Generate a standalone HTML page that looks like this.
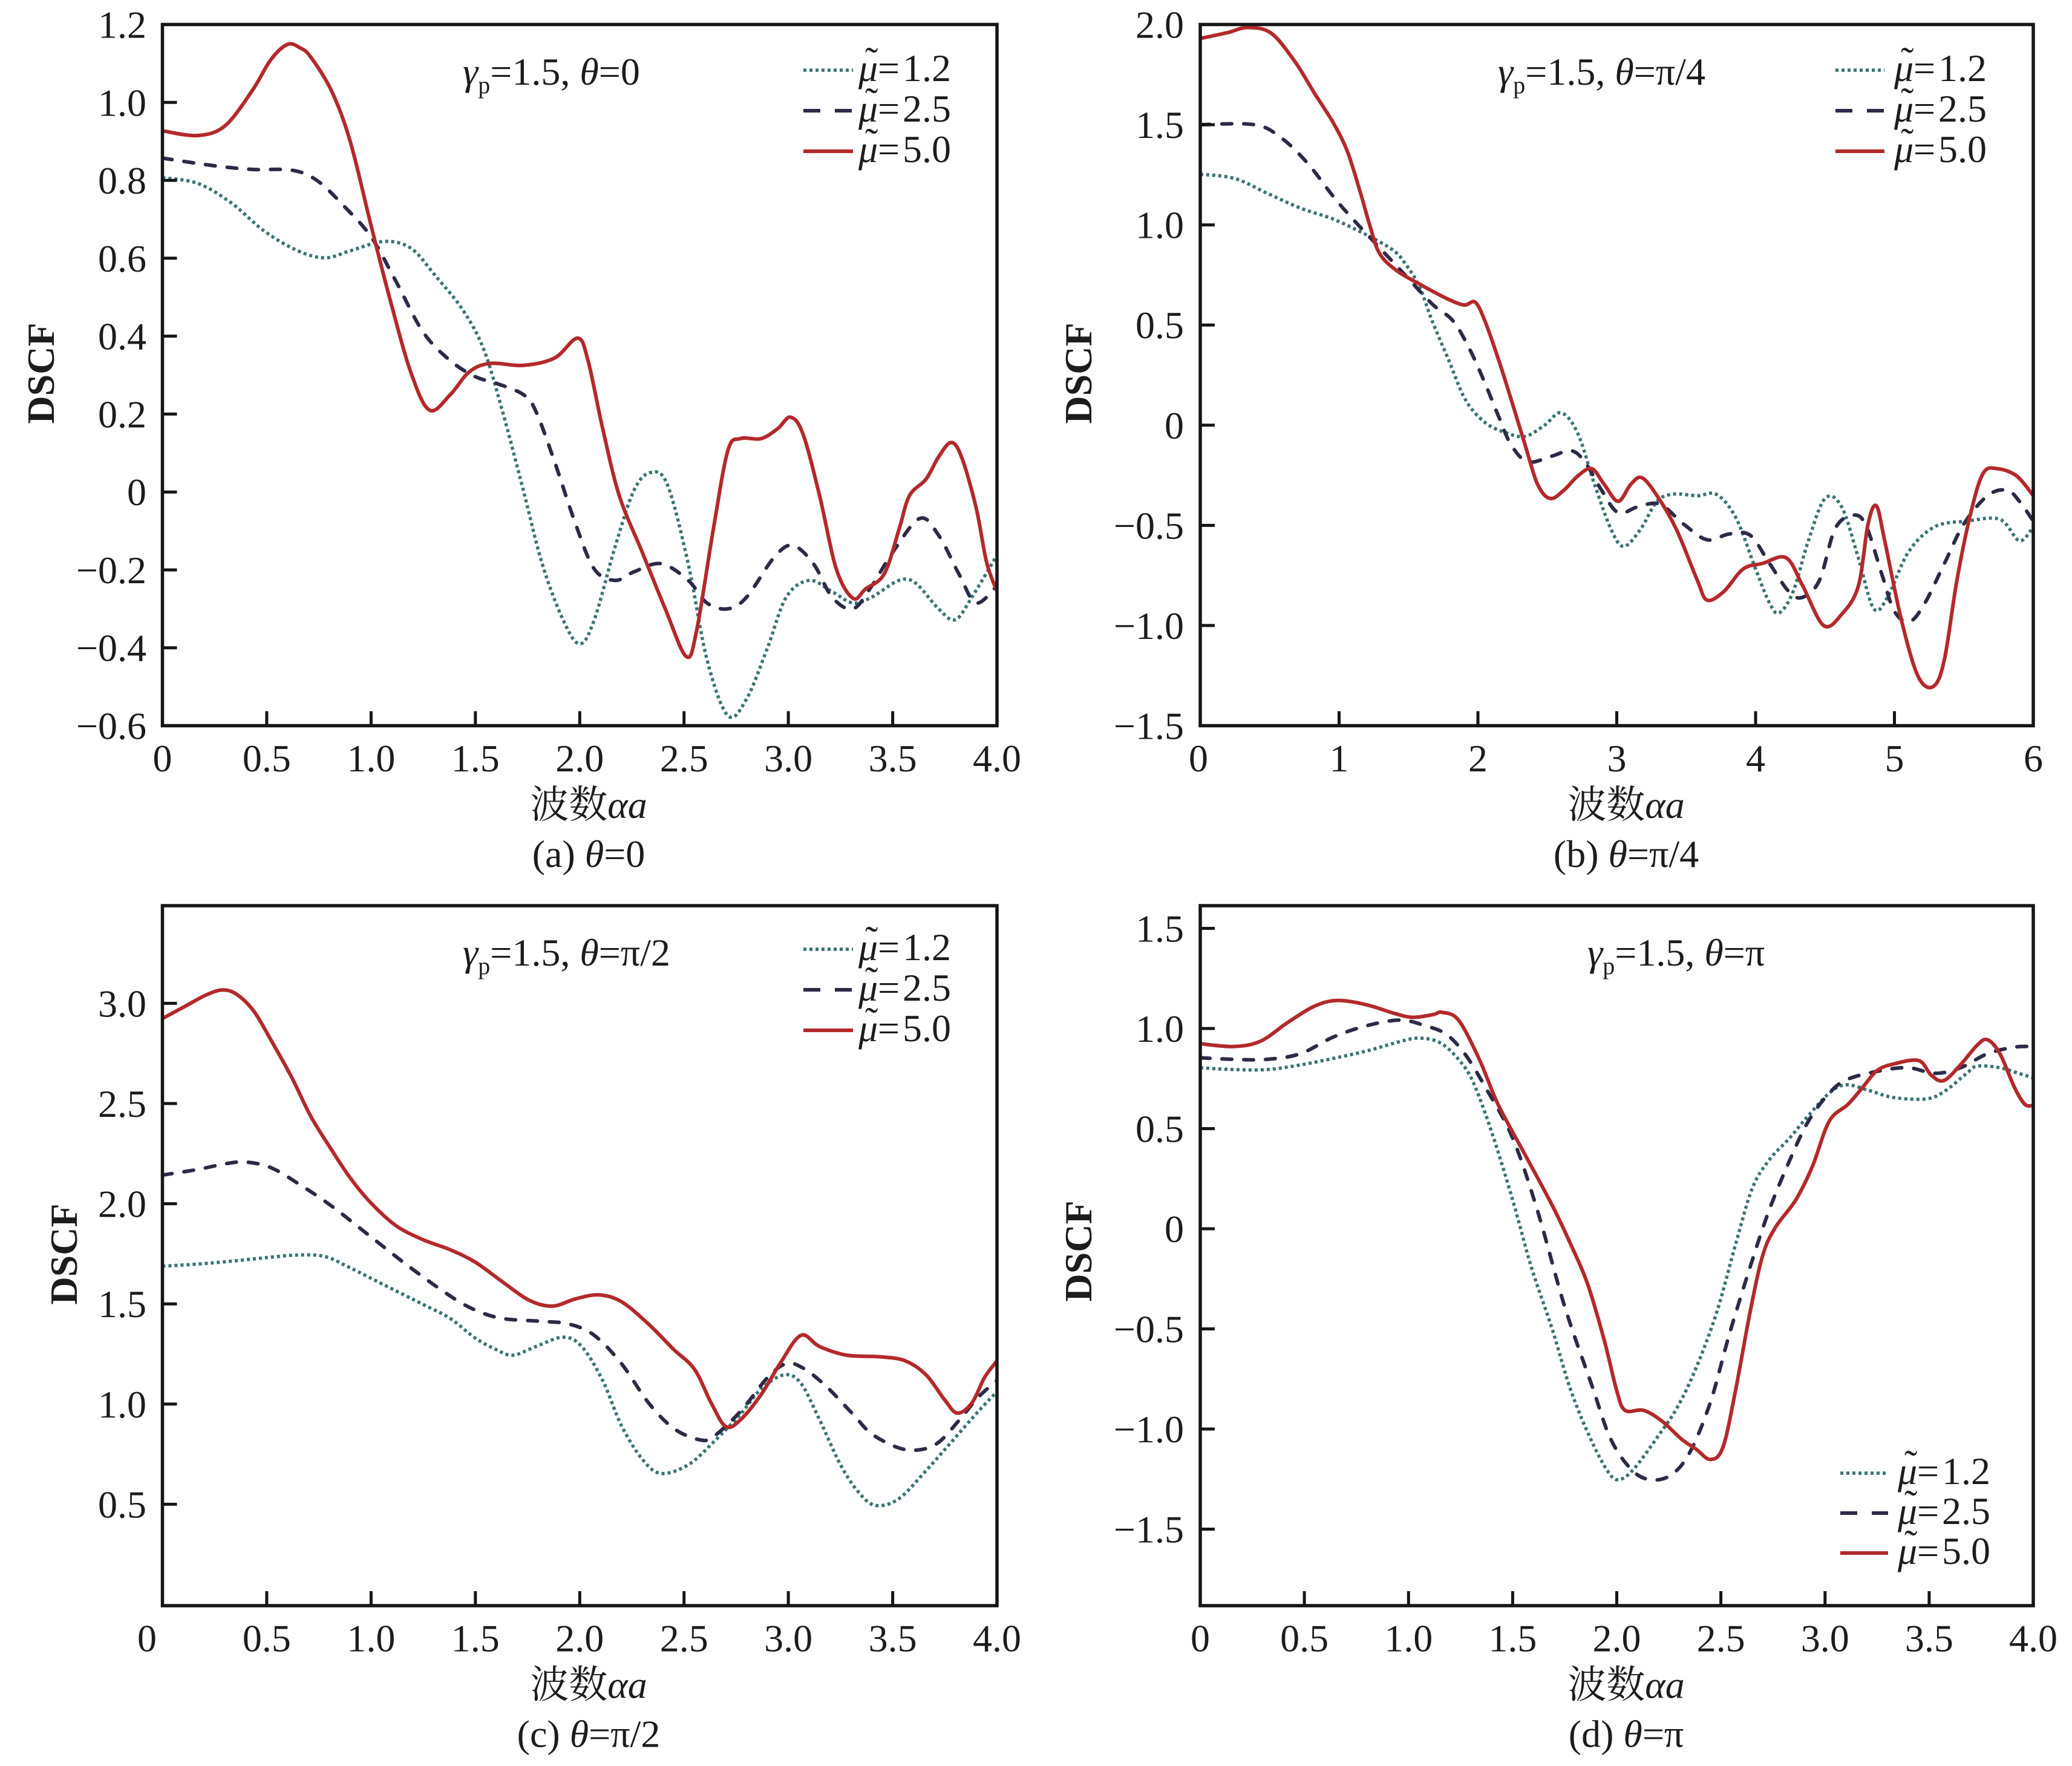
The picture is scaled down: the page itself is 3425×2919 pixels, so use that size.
<!DOCTYPE html>
<html><head><meta charset="utf-8">
<style>
html,body{margin:0;padding:0;background:#fff;}
svg{display:block;}
text{font-family:"Liberation Serif","Noto Serif CJK SC",serif;font-size:64px;fill:#1c1c1c;}
.dot{fill:none;stroke:#3a7272;stroke-width:5.5;stroke-dasharray:5 5;stroke-linejoin:round;vector-effect:non-scaling-stroke;}
.dash{fill:none;stroke:#2b2b47;stroke-width:6;stroke-dasharray:16 20;stroke-linecap:round;stroke-linejoin:round;vector-effect:non-scaling-stroke;}
.sol{fill:none;stroke:#b3292b;stroke-width:6;stroke-linejoin:round;stroke-linecap:round;vector-effect:non-scaling-stroke;}
.ldash{fill:none;stroke:#2b2b47;stroke-width:6;stroke-dasharray:28 24;}
.frame{fill:none;stroke:#161616;stroke-width:5.5;}
.tick{fill:none;stroke:#161616;stroke-width:5;}
</style></head>
<body>
<svg id="chart" xmlns="http://www.w3.org/2000/svg" width="3425" height="2919" viewBox="0 0 3425 2919">
<defs>
<clipPath id="ca"><rect x="268.5" y="40.5" width="1379.5" height="1159"/></clipPath>
<clipPath id="cb"><rect x="1984" y="40.5" width="1377" height="1159"/></clipPath>
<clipPath id="cc"><rect x="268.5" y="1497" width="1379.5" height="1157"/></clipPath>
<clipPath id="cd"><rect x="1984" y="1497" width="1377" height="1157"/></clipPath>
</defs>
<rect x="0" y="0" width="3425" height="2919" fill="#fff"/>

<!-- Panel a curves -->
<g clip-path="url(#ca)"><g id="pa" transform="translate(268.5,813.17) scale(344.875,-643.89)">
<polyline class="dot" vector-effect="non-scaling-stroke" points="0,0.807 0.17,0.792 0.33,0.742 0.49,0.669 0.65,0.619 0.78,0.601 0.90,0.619 1.06,0.643 1.19,0.626 1.31,0.554 1.44,0.467 1.54,0.366 1.63,0.207 1.73,0.004 1.82,-0.184 1.92,-0.328 2.0,-0.39 2.07,-0.328 2.17,-0.14 2.26,0.004 2.34,0.05 2.42,0.019 2.52,-0.184 2.61,-0.43 2.71,-0.574 2.80,-0.531 2.90,-0.40 2.99,-0.27 3.10,-0.227 3.21,-0.256 3.31,-0.285 3.40,-0.27 3.53,-0.227 3.61,-0.234 3.72,-0.30 3.80,-0.328 3.88,-0.27 4.0,-0.162"/>
<polyline class="dash" vector-effect="non-scaling-stroke" points="0,0.857 0.24,0.838 0.43,0.828 0.62,0.826 0.74,0.80 0.87,0.734 1.0,0.655 1.12,0.54 1.25,0.41 1.38,0.337 1.50,0.296 1.60,0.279 1.73,0.25 1.79,0.207 1.88,0.077 1.98,-0.082 2.07,-0.198 2.17,-0.227 2.26,-0.205 2.39,-0.184 2.52,-0.227 2.61,-0.285 2.71,-0.30 2.80,-0.27 2.93,-0.169 3.02,-0.137 3.12,-0.184 3.21,-0.27 3.31,-0.30 3.40,-0.241 3.50,-0.155 3.63,-0.068 3.72,-0.111 3.82,-0.213 3.90,-0.285 4.0,-0.241"/>
<polyline class="sol" vector-effect="non-scaling-stroke" points="0,0.927 0.17,0.915 0.30,0.94 0.43,1.03 0.52,1.11 0.60,1.149 0.66,1.14 0.71,1.117 0.81,1.03 0.90,0.90 1.0,0.684 1.09,0.496 1.19,0.308 1.28,0.21 1.38,0.25 1.47,0.308 1.57,0.33 1.73,0.325 1.88,0.344 1.99,0.395 2.04,0.337 2.11,0.163 2.19,-0.01 2.30,-0.155 2.41,-0.30 2.51,-0.422 2.56,-0.357 2.64,-0.097 2.71,0.106 2.77,0.137 2.87,0.137 2.95,0.163 3.01,0.192 3.07,0.149 3.15,-0.01 3.23,-0.198 3.31,-0.273 3.37,-0.249 3.46,-0.21 3.53,-0.097 3.58,-0.01 3.66,0.033 3.72,0.09 3.78,0.127 3.83,0.09 3.90,-0.04 3.95,-0.18 4.0,-0.255"/>
</g></g>

<!-- Panel b curves -->
<g clip-path="url(#cb)"><g id="pb" transform="translate(1984,702.79) scale(229.5,-331.14)">
<polyline class="dot" vector-effect="non-scaling-stroke" points="0,1.253 0.25,1.231 0.49,1.155 0.72,1.084 0.96,1.028 1.20,0.949 1.39,0.873 1.48,0.803 1.58,0.69 1.67,0.521 1.79,0.324 1.91,0.127 2.05,0.014 2.20,-0.037 2.34,-0.056 2.48,0.0 2.60,0.062 2.72,-0.042 2.84,-0.296 2.96,-0.521 3.05,-0.605 3.17,-0.521 3.29,-0.38 3.41,-0.344 3.58,-0.352 3.72,-0.346 3.86,-0.465 4.0,-0.718 4.10,-0.887 4.17,-0.937 4.27,-0.831 4.38,-0.577 4.50,-0.366 4.62,-0.408 4.74,-0.662 4.85,-0.915 4.95,-0.859 5.10,-0.634 5.29,-0.507 5.52,-0.479 5.76,-0.47 5.90,-0.577 6.0,-0.507"/>
<polyline class="dash" vector-effect="non-scaling-stroke" points="0,1.50 0.39,1.50 0.58,1.436 0.77,1.31 0.96,1.14 1.10,1.028 1.29,0.887 1.48,0.746 1.67,0.605 1.82,0.521 1.94,0.38 2.05,0.211 2.15,0.042 2.24,-0.099 2.36,-0.183 2.53,-0.155 2.67,-0.127 2.77,-0.183 2.89,-0.324 3.01,-0.437 3.15,-0.408 3.31,-0.394 3.48,-0.493 3.65,-0.572 3.81,-0.543 3.96,-0.549 4.10,-0.69 4.24,-0.831 4.34,-0.859 4.46,-0.774 4.57,-0.521 4.69,-0.451 4.79,-0.493 4.91,-0.746 5.0,-0.929 5.11,-0.98 5.22,-0.887 5.36,-0.69 5.50,-0.493 5.67,-0.352 5.81,-0.324 5.90,-0.38 6.0,-0.479"/>
<polyline class="sol" vector-effect="non-scaling-stroke" points="0,1.93 0.2,1.96 0.34,1.985 0.51,1.957 0.68,1.817 0.82,1.66 0.96,1.507 1.06,1.366 1.15,1.169 1.22,1.0 1.29,0.859 1.41,0.774 1.58,0.704 1.77,0.634 1.90,0.60 1.98,0.614 2.05,0.521 2.15,0.324 2.24,0.127 2.34,-0.099 2.43,-0.296 2.52,-0.366 2.62,-0.324 2.72,-0.253 2.82,-0.217 2.91,-0.296 3.01,-0.38 3.10,-0.296 3.18,-0.262 3.29,-0.352 3.43,-0.521 3.58,-0.774 3.65,-0.873 3.77,-0.831 3.91,-0.718 4.05,-0.69 4.22,-0.662 4.34,-0.803 4.49,-1.0 4.62,-0.944 4.74,-0.803 4.81,-0.493 4.87,-0.403 4.93,-0.577 5.05,-0.972 5.17,-1.253 5.28,-1.304 5.36,-1.169 5.45,-0.774 5.55,-0.437 5.64,-0.239 5.74,-0.217 5.88,-0.253 6.0,-0.352"/>
</g></g>

<!-- Panel c curves -->
<g clip-path="url(#cc)"><g id="pc" transform="translate(268.5,2652) scale(344.875,-331.2)">
<polyline class="dot" vector-effect="non-scaling-stroke" points="0,1.688 0.17,1.699 0.33,1.713 0.49,1.730 0.65,1.744 0.78,1.736 0.90,1.68 1.06,1.596 1.25,1.497 1.38,1.427 1.50,1.329 1.60,1.272 1.68,1.244 1.79,1.287 1.92,1.334 2.01,1.287 2.11,1.118 2.20,0.893 2.30,0.725 2.39,0.654 2.52,0.697 2.64,0.809 2.77,0.949 2.87,1.076 2.98,1.146 3.06,1.104 3.15,0.921 3.25,0.697 3.34,0.556 3.42,0.494 3.53,0.528 3.66,0.668 3.78,0.809 3.91,0.963 4.0,1.062"/>
<polyline class="dash" vector-effect="non-scaling-stroke" points="0,2.143 0.17,2.171 0.30,2.199 0.40,2.208 0.52,2.18 0.65,2.101 0.81,1.989 1.0,1.834 1.19,1.68 1.38,1.539 1.50,1.469 1.63,1.427 1.82,1.413 1.95,1.399 2.07,1.343 2.20,1.202 2.33,1.006 2.45,0.879 2.57,0.823 2.64,0.837 2.77,0.963 2.90,1.132 2.99,1.202 3.07,1.18 3.18,1.09 3.31,0.949 3.40,0.851 3.53,0.781 3.63,0.772 3.72,0.809 3.82,0.921 3.91,1.034 4.0,1.118"/>
<polyline class="sol" vector-effect="non-scaling-stroke" points="0,2.924 0.11,2.986 0.21,3.042 0.29,3.067 0.36,3.042 0.44,2.958 0.52,2.817 0.62,2.630 0.71,2.438 0.81,2.27 0.90,2.129 1.0,2.003 1.12,1.89 1.25,1.82 1.38,1.77 1.50,1.708 1.63,1.61 1.76,1.517 1.87,1.489 1.98,1.525 2.09,1.545 2.20,1.511 2.33,1.399 2.45,1.273 2.55,1.174 2.63,1.006 2.70,0.888 2.77,0.921 2.87,1.048 2.96,1.202 3.06,1.343 3.15,1.287 3.28,1.244 3.44,1.236 3.56,1.216 3.66,1.146 3.75,1.02 3.81,0.955 3.88,1.006 3.94,1.132 4.0,1.216"/>
</g></g>

<!-- Panel d curves -->
<g clip-path="url(#cd)"><g id="pd" transform="translate(1984,2031) scale(344.25,-331)">
<polyline class="dot" vector-effect="non-scaling-stroke" points="0,0.804 0.16,0.795 0.32,0.795 0.48,0.818 0.64,0.851 0.80,0.888 0.96,0.935 1.05,0.952 1.15,0.93 1.24,0.846 1.31,0.733 1.40,0.481 1.50,0.144 1.59,-0.192 1.69,-0.501 1.78,-0.809 1.88,-1.062 1.96,-1.216 2.01,-1.253 2.08,-1.202 2.19,-1.048 2.29,-0.893 2.38,-0.697 2.48,-0.417 2.57,-0.08 2.65,0.2 2.73,0.341 2.83,0.453 2.92,0.565 3.02,0.677 3.10,0.719 3.21,0.691 3.33,0.655 3.49,0.649 3.58,0.691 3.68,0.776 3.73,0.812 3.84,0.804 3.93,0.776 4.0,0.753"/>
<polyline class="dash" vector-effect="non-scaling-stroke" points="0,0.854 0.16,0.846 0.32,0.846 0.48,0.874 0.64,0.958 0.80,1.014 0.96,1.042 1.08,1.014 1.18,0.972 1.27,0.874 1.37,0.705 1.50,0.453 1.62,0.088 1.75,-0.389 1.88,-0.781 1.97,-1.048 2.07,-1.202 2.16,-1.253 2.26,-1.23 2.35,-1.118 2.45,-0.865 2.54,-0.529 2.64,-0.192 2.73,0.088 2.83,0.341 2.92,0.537 3.02,0.677 3.11,0.747 3.27,0.79 3.40,0.804 3.53,0.776 3.65,0.804 3.78,0.874 3.91,0.907 4.0,0.91"/>
<polyline class="sol" vector-effect="non-scaling-stroke" points="0,0.924 0.16,0.91 0.29,0.937 0.42,1.03 0.55,1.112 0.66,1.14 0.80,1.118 0.93,1.076 1.02,1.056 1.12,1.07 1.16,1.081 1.24,1.042 1.34,0.846 1.43,0.621 1.56,0.369 1.69,0.117 1.78,-0.08 1.86,-0.276 1.94,-0.557 2.0,-0.809 2.04,-0.907 2.13,-0.907 2.22,-0.963 2.31,-1.05 2.38,-1.10 2.45,-1.152 2.51,-1.09 2.57,-0.809 2.64,-0.417 2.70,-0.136 2.76,0.004 2.86,0.145 2.94,0.313 3.02,0.537 3.11,0.621 3.18,0.705 3.25,0.79 3.33,0.823 3.45,0.84 3.51,0.767 3.57,0.74 3.65,0.818 3.73,0.916 3.78,0.944 3.84,0.874 3.91,0.705 3.96,0.621 4.0,0.616"/>
</g></g>

<!-- Frames -->
<rect class="frame" x="268.5" y="40.5" width="1379.5" height="1159"/>
<rect class="frame" x="1984" y="40.5" width="1377" height="1159"/>
<rect class="frame" x="268.5" y="1497" width="1379.5" height="1157"/>
<rect class="frame" x="1984" y="1497" width="1377" height="1157"/>

<!-- Ticks -->
<path class="tick" d="M268.5 169.3h24M268.5 298.1h24M268.5 426.8h24M268.5 555.6h24M268.5 684.4h24M268.5 813.2h24M268.5 942h24M268.5 1070.7h24
M440.9 1199.5v-24M613.4 1199.5v-24M785.8 1199.5v-24M958.3 1199.5v-24M1130.7 1199.5v-24M1303.1 1199.5v-24M1475.6 1199.5v-24"/>
<path class="tick" d="M1984 206.1h24M1984 371.7h24M1984 537.2h24M1984 702.8h24M1984 868.4h24M1984 1033.9h24
M2213.5 1199.5v-24M2443 1199.5v-24M2672.5 1199.5v-24M2902 1199.5v-24M3131.5 1199.5v-24"/>
<path class="tick" d="M268.5 2486.4h24M268.5 2320.8h24M268.5 2155.2h24M268.5 1989.6h24M268.5 1824h24M268.5 1658.4h24
M440.9 2654v-24M613.4 2654v-24M785.8 2654v-24M958.3 2654v-24M1130.7 2654v-24M1303.1 2654v-24M1475.6 2654v-24"/>
<path class="tick" d="M1984 1534.5h24M1984 1700h24M1984 1865.5h24M1984 2031h24M1984 2196.5h24M1984 2362h24M1984 2527.5h24
M2156.1 2654v-24M2328.3 2654v-24M2500.4 2654v-24M2672.5 2654v-24M2844.6 2654v-24M3016.8 2654v-24M3188.9 2654v-24"/>

<!-- Tick labels -->
<g text-anchor="end">
<text x="242" y="62.5">1.2</text><text x="242" y="191.3">1.0</text><text x="242" y="320.1">0.8</text><text x="242" y="448.8">0.6</text><text x="242" y="577.6">0.4</text><text x="242" y="706.4">0.2</text><text x="242" y="835.2">0</text><text x="242" y="964">−0.2</text><text x="242" y="1092.7">−0.4</text><text x="242" y="1221.5">−0.6</text>
<text x="1957" y="62.5">2.0</text><text x="1957" y="228.1">1.5</text><text x="1957" y="393.7">1.0</text><text x="1957" y="559.2">0.5</text><text x="1957" y="724.8">0</text><text x="1957" y="890.4">−0.5</text><text x="1957" y="1055.9">−1.0</text><text x="1957" y="1221.5">−1.5</text>
<text x="242" y="1680.4">3.0</text><text x="242" y="1846">2.5</text><text x="242" y="2011.6">2.0</text><text x="242" y="2177.2">1.5</text><text x="242" y="2342.8">1.0</text><text x="242" y="2508.4">0.5</text>
<text x="1957" y="1556.5">1.5</text><text x="1957" y="1722">1.0</text><text x="1957" y="1887.5">0.5</text><text x="1957" y="2053">0</text><text x="1957" y="2218.5">−0.5</text><text x="1957" y="2384">−1.0</text><text x="1957" y="2549.5">−1.5</text>
</g>
<g text-anchor="middle">
<text x="268.5" y="1275">0</text><text x="440.9" y="1275">0.5</text><text x="613.4" y="1275">1.0</text><text x="785.8" y="1275">1.5</text><text x="958.3" y="1275">2.0</text><text x="1130.7" y="1275">2.5</text><text x="1303.1" y="1275">3.0</text><text x="1475.6" y="1275">3.5</text><text x="1648" y="1275">4.0</text>
<text x="1981" y="1275">0</text><text x="2213.5" y="1275">1</text><text x="2443" y="1275">2</text><text x="2672.5" y="1275">3</text><text x="2902" y="1275">4</text><text x="3131.5" y="1275">5</text><text x="3361" y="1275">6</text>
<text x="243" y="2729.5">0</text><text x="440.9" y="2729.5">0.5</text><text x="613.4" y="2729.5">1.0</text><text x="785.8" y="2729.5">1.5</text><text x="958.3" y="2729.5">2.0</text><text x="1130.7" y="2729.5">2.5</text><text x="1303.1" y="2729.5">3.0</text><text x="1475.6" y="2729.5">3.5</text><text x="1648" y="2729.5">4.0</text>
<text x="1984" y="2729.5">0</text><text x="2156.1" y="2729.5">0.5</text><text x="2328.3" y="2729.5">1.0</text><text x="2500.4" y="2729.5">1.5</text><text x="2672.5" y="2729.5">2.0</text><text x="2844.6" y="2729.5">2.5</text><text x="3016.8" y="2729.5">3.0</text><text x="3188.9" y="2729.5">3.5</text><text x="3361" y="2729.5">4.0</text>

<!-- x labels and captions -->
<text x="973" y="1352">波数<tspan font-style="italic">αa</tspan></text>
<text x="973" y="1433">(a) <tspan font-style="italic">θ</tspan>=0</text>
<text x="2688" y="1352">波数<tspan font-style="italic">αa</tspan></text>
<text x="2688" y="1433">(b) <tspan font-style="italic">θ</tspan>=π/4</text>
<text x="973" y="2806.5">波数<tspan font-style="italic">αa</tspan></text>
<text x="973" y="2887.5">(c) <tspan font-style="italic">θ</tspan>=π/2</text>
<text x="2688" y="2806.5">波数<tspan font-style="italic">αa</tspan></text>
<text x="2688" y="2887.5">(d) <tspan font-style="italic">θ</tspan>=π</text>

<!-- y labels -->
<text transform="translate(67,617) rotate(-90)" dy="22" font-weight="bold">DSCF</text>
<text transform="translate(1782,617) rotate(-90)" dy="22" font-weight="bold">DSCF</text>
<text transform="translate(105,2073) rotate(-90)" dy="22" font-weight="bold">DSCF</text>
<text transform="translate(1782,2068) rotate(-90)" dy="22" font-weight="bold">DSCF</text>
</g>

<!-- Annotations -->
<text x="765" y="140"><tspan font-style="italic">γ</tspan><tspan font-size="40" dy="14">p</tspan><tspan dy="-14">=1.5, </tspan><tspan font-style="italic">θ</tspan>=0</text>
<text x="2476" y="140"><tspan font-style="italic">γ</tspan><tspan font-size="40" dy="14">p</tspan><tspan dy="-14">=1.5, </tspan><tspan font-style="italic">θ</tspan>=π/4</text>
<text x="765" y="1596"><tspan font-style="italic">γ</tspan><tspan font-size="40" dy="14">p</tspan><tspan dy="-14">=1.5, </tspan><tspan font-style="italic">θ</tspan>=π/2</text>
<text x="2624" y="1596"><tspan font-style="italic">γ</tspan><tspan font-size="40" dy="14">p</tspan><tspan dy="-14">=1.5, </tspan><tspan font-style="italic">θ</tspan>=π</text>

<!-- Legend a -->
<line class="dot" x1="1328" y1="116" x2="1410" y2="116"/>
<line class="ldash" x1="1328" y1="183" x2="1410" y2="183"/>
<line class="sol" style="stroke-linecap:butt" x1="1328" y1="250" x2="1410" y2="250"/>
<text x="1419" y="134" font-style="italic">μ</text><text x="1430" y="122">˜</text><text x="1451" y="134">=</text><text x="1492" y="134">1.2</text>
<text x="1419" y="201" font-style="italic">μ</text><text x="1430" y="189">˜</text><text x="1451" y="201">=</text><text x="1492" y="201">2.5</text>
<text x="1419" y="268" font-style="italic">μ</text><text x="1430" y="256">˜</text><text x="1451" y="268">=</text><text x="1492" y="268">5.0</text>

<!-- Legend b -->
<line class="dot" x1="3034" y1="116" x2="3115" y2="116"/>
<line class="ldash" x1="3034" y1="183" x2="3115" y2="183"/>
<line class="sol" style="stroke-linecap:butt" x1="3034" y1="250" x2="3115" y2="250"/>
<text x="3131" y="134" font-style="italic">μ</text><text x="3142" y="122">˜</text><text x="3163" y="134">=</text><text x="3204" y="134">1.2</text>
<text x="3131" y="201" font-style="italic">μ</text><text x="3142" y="189">˜</text><text x="3163" y="201">=</text><text x="3204" y="201">2.5</text>
<text x="3131" y="268" font-style="italic">μ</text><text x="3142" y="256">˜</text><text x="3163" y="268">=</text><text x="3204" y="268">5.0</text>

<!-- Legend c -->
<line class="dot" x1="1328" y1="1569" x2="1410" y2="1569"/>
<line class="ldash" x1="1328" y1="1636" x2="1410" y2="1636"/>
<line class="sol" style="stroke-linecap:butt" x1="1328" y1="1703" x2="1410" y2="1703"/>
<text x="1419" y="1587" font-style="italic">μ</text><text x="1430" y="1575">˜</text><text x="1451" y="1587">=</text><text x="1492" y="1587">1.2</text>
<text x="1419" y="1654" font-style="italic">μ</text><text x="1430" y="1642">˜</text><text x="1451" y="1654">=</text><text x="1492" y="1654">2.5</text>
<text x="1419" y="1721" font-style="italic">μ</text><text x="1430" y="1709">˜</text><text x="1451" y="1721">=</text><text x="1492" y="1721">5.0</text>

<!-- Legend d -->
<line class="dot" x1="3042" y1="2435" x2="3121" y2="2435"/>
<line class="ldash" x1="3042" y1="2501" x2="3121" y2="2501"/>
<line class="sol" style="stroke-linecap:butt" x1="3042" y1="2567" x2="3121" y2="2567"/>
<text x="3137" y="2453" font-style="italic">μ</text><text x="3148" y="2441">˜</text><text x="3169" y="2453">=</text><text x="3210" y="2453">1.2</text>
<text x="3137" y="2519" font-style="italic">μ</text><text x="3148" y="2507">˜</text><text x="3169" y="2519">=</text><text x="3210" y="2519">2.5</text>
<text x="3137" y="2585" font-style="italic">μ</text><text x="3148" y="2573">˜</text><text x="3169" y="2585">=</text><text x="3210" y="2585">5.0</text>
</svg>
<script>
(function(){
var T={pa:[268.5,813.17,344.875,-643.89],pb:[1984,702.79,229.5,-331.14],pc:[268.5,2652,344.875,-331.2],pd:[1984,2031,344.25,-331]};
var NS='http://www.w3.org/2000/svg';
for(var id in T){
 var g=document.getElementById(id); if(!g) continue; var t=T[id];
 var ng=document.createElementNS(NS,'g');
 var pls=g.getElementsByTagName('polyline');
 for(var i=0;i<pls.length;i++){
  var pl=pls[i];
  var n=pl.getAttribute('points').trim().split(/[\s,]+/).map(Number);
  var P=[];
  for(var k=0;k+1<n.length;k+=2)P.push([t[0]+n[k]*t[2],t[1]+n[k+1]*t[3]]);
  var f=function(v){return v.toFixed(2);};
  var d='M'+f(P[0][0])+' '+f(P[0][1]);
  for(var k=0;k<P.length-1;k++){
   var p0=P[k>0?k-1:k],p1=P[k],p2=P[k+1],p3=P[k+2<P.length?k+2:k+1];
   d+=' C'+f(p1[0]+(p2[0]-p0[0])/6)+' '+f(p1[1]+(p2[1]-p0[1])/6)+' '+f(p2[0]-(p3[0]-p1[0])/6)+' '+f(p2[1]-(p3[1]-p1[1])/6)+' '+f(p2[0])+' '+f(p2[1]);
  }
  var p=document.createElementNS(NS,'path');
  p.setAttribute('d',d);
  p.setAttribute('class',pl.getAttribute('class'));
  ng.appendChild(p);
 }
 g.parentNode.replaceChild(ng,g);
}
})();
</script>
</body></html>
